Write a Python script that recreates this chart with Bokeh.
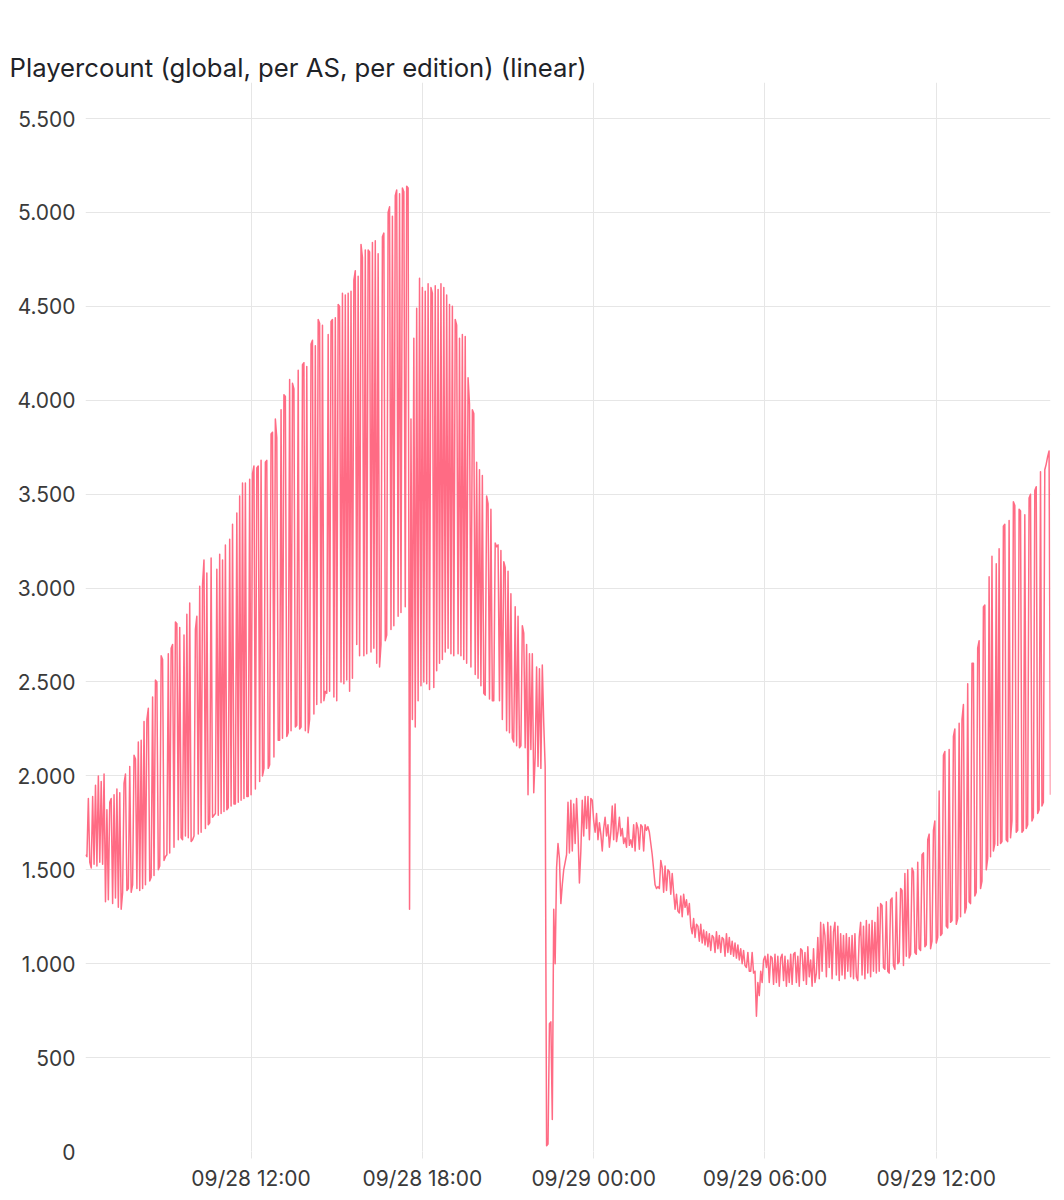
import numpy as np
from bokeh.plotting import figure
from bokeh.models import (FixedTicker, DatetimeTickFormatter, Range1d,
                          ColumnDataSource, LinearAxis)
from bokeh.embed import file_html
from bokeh.resources import INLINE

TITLE = "Playercount (global, per AS, per edition) (linear)"
START = "2024-09-28T06:12"   # first sample
STEP_MIN = 3                 # sampling interval in minutes

# ---- player counts, one list per hour (3-minute samples) ----
d28_06 = [1580, 1570, 1880, 1540, 1510, 1890, 1530, 1950, 1520, 2000, 1540, 1970, 1530, 2010, 1330, 1820]
d28_07 = [1340, 1860, 1880, 1320, 1900, 1350, 1930, 1300, 1910, 1290, 1380, 1960, 2010, 1390, 1400, 2050, 1380, 1420, 2110, 2090]
d28_08 = [1400, 2180, 1390, 2190, 1400, 2290, 1420, 2300, 2360, 1440, 1460, 2420, 1470, 2510, 2500, 1500, 1520, 2640, 2620, 1550]
d28_09 = [1570, 1580, 2650, 1590, 2680, 2700, 1620, 2820, 2810, 1660, 2790, 1670, 1660, 2750, 1680, 2860, 1670, 2920, 1650, 1660]
d28_10 = [1680, 2780, 2850, 1690, 3010, 1700, 3020, 3150, 1720, 3080, 1740, 1750, 3160, 1780, 1790, 1800, 3100, 1790, 3180, 1800]
d28_11 = [3150, 1810, 3230, 1820, 1830, 3260, 1840, 3340, 1850, 1850, 3400, 1860, 3490, 1870, 3560, 1880, 3560, 1890, 1890, 3580]
d28_12 = [1900, 3610, 3650, 1930, 3640, 3650, 1970, 3680, 2000, 2040, 3670, 3680, 2040, 2060, 3820, 3830, 2100, 3900, 3800, 2190]
d28_13 = [2190, 3950, 2200, 4030, 4020, 2210, 2230, 4110, 2240, 4090, 4060, 2260, 2270, 4160, 2250, 2260, 4190, 4200, 2240, 4180]
d28_14 = [2230, 2300, 4300, 4320, 2330, 4290, 2380, 4430, 4410, 2390, 4400, 2400, 2450, 2440, 4350, 2450, 4420, 4430, 2420, 4440]
d28_15 = [2400, 4510, 4500, 2500, 4570, 2490, 4560, 2510, 4570, 2450, 4580, 2520, 4640, 4690, 2700, 4660, 2640, 4830, 4760, 2640]
d28_16 = [4800, 2650, 4800, 4790, 2660, 4840, 2680, 4850, 2600, 4780, 2580, 2700, 4870, 4890, 2720, 2750, 5000, 5030, 2780, 4980]
d28_17 = [2800, 5090, 5120, 2850, 5100, 2870, 5130, 5110, 2900, 5140, 5130, 1290, 3900, 2300, 4330, 2260, 4490, 2400, 4650, 2480]
d28_18 = [4600, 2500, 4580, 2490, 4620, 2460, 4600, 4570, 2470, 4610, 2560, 4590, 2600, 4620, 2620, 4600, 2660, 4560, 2680, 4510]
d28_19 = [2650, 4500, 2640, 4430, 4400, 2650, 4330, 2640, 4350, 2620, 4340, 2600, 4120, 3980, 2580, 3950, 3930, 2540, 3670, 2520]
d28_20 = [3630, 2480, 3600, 2440, 2430, 3490, 3450, 2410, 3420, 2400, 2400, 3240, 3220, 3230, 2400, 3200, 2300, 3140, 3110, 2240]
d28_21 = [3090, 2230, 2970, 2200, 2180, 2900, 2160, 2850, 2150, 2160, 2800, 2760, 2150, 2700, 1900, 2650, 2140, 2650, 1910, 2100]
d28_22 = [2580, 2050, 2570, 2040, 2590, 2280, 2050, 30, 40, 680, 690, 170, 1290, 1000, 1510, 1640, 1560, 1320, 1420, 1500]
d28_23 = [1540, 1580, 1860, 1590, 1870, 1600, 1850, 1640, 1880, 1700, 1430, 1600, 1870, 1680, 1890, 1720, 1890, 1660, 1880, 1870]
d29_00 = [1760, 1700, 1800, 1660, 1750, 1690, 1600, 1720, 1780, 1680, 1740, 1620, 1700, 1840, 1660, 1850, 1650, 1700, 1780, 1680]
d29_01 = [1720, 1640, 1670, 1620, 1780, 1630, 1660, 1620, 1740, 1600, 1750, 1720, 1610, 1740, 1730, 1600, 1740, 1710, 1730, 1700]
d29_02 = [1640, 1580, 1500, 1420, 1400, 1410, 1400, 1550, 1510, 1380, 1520, 1390, 1500, 1490, 1370, 1480, 1380, 1290, 1370, 1280]
d29_03 = [1270, 1360, 1250, 1370, 1300, 1340, 1260, 1320, 1200, 1160, 1240, 1140, 1210, 1200, 1120, 1210, 1110, 1180, 1100, 1170]
d29_04 = [1090, 1160, 1070, 1150, 1140, 1060, 1170, 1080, 1150, 1060, 1140, 1130, 1040, 1160, 1060, 1140, 1050, 1120, 1040, 1110]
d29_05 = [1030, 1100, 1020, 1080, 1000, 1070, 990, 980, 1060, 960, 960, 1060, 950, 960, 720, 900, 830, 960, 900, 1020]
d29_06 = [1040, 980, 1050, 900, 1040, 1030, 890, 1050, 900, 1040, 880, 1030, 1050, 910, 1040, 880, 1020, 900, 1050, 890]
d29_07 = [1050, 1060, 900, 1040, 880, 1080, 1070, 910, 1060, 890, 1090, 930, 1020, 880, 1080, 900, 950, 1140, 920, 1220]
d29_08 = [960, 1210, 1150, 930, 1220, 980, 1200, 920, 1170, 1220, 940, 1200, 910, 1160, 940, 1150, 920, 1160, 960, 1140]
d29_09 = [930, 1150, 920, 1160, 930, 910, 1140, 1220, 940, 1200, 920, 1230, 950, 1210, 930, 1230, 960, 1220, 950, 1300]
d29_10 = [960, 1320, 1310, 980, 970, 1330, 960, 950, 1340, 1350, 990, 970, 1380, 1000, 1010, 1400, 1390, 990, 1480, 1040]
d29_11 = [1500, 1030, 1050, 1510, 1490, 1060, 1050, 1540, 1080, 1070, 1580, 1590, 1090, 1100, 1660, 1690, 1080, 1120, 1710, 1760]
d29_12 = [1110, 1140, 1920, 1150, 1160, 2110, 2130, 1200, 1190, 2140, 1220, 1230, 2210, 2250, 1210, 1240, 2280, 1250, 2300, 2380]
d29_13 = [1270, 1300, 2490, 1330, 1320, 2600, 2600, 1360, 1380, 2680, 2720, 1400, 1440, 2900, 2910, 1500, 1560, 3060, 1570, 3170]
d29_14 = [1600, 1640, 3130, 1630, 3210, 1640, 1650, 3330, 3340, 1660, 1650, 3360, 1670, 1760, 3460, 3440, 1700, 1710, 3420, 3410]
d29_15 = [1700, 1710, 3390, 1720, 1740, 3480, 3500, 1760, 1780, 3520, 3540, 1800, 1820, 3620, 1840, 1860, 3630, 3660, 3700, 3730, 1900]

players = (d28_06 + d28_07 + d28_08 + d28_09 + d28_10 + d28_11 + d28_12 + d28_13 + d28_14
           + d28_15 + d28_16 + d28_17 + d28_18 + d28_19 + d28_20 + d28_21 + d28_22 + d28_23
           + d29_00 + d29_01 + d29_02 + d29_03 + d29_04 + d29_05 + d29_06 + d29_07 + d29_08
           + d29_09 + d29_10 + d29_11 + d29_12 + d29_13 + d29_14 + d29_15)

# ---- axis ticks ----
y_ticks = [0, 500, 1000, 1500, 2000, 2500, 3000, 3500, 4000, 4500, 5000, 5500]
y_tick_labels = ["0", "500", "1.000", "1.500", "2.000", "2.500", "3.000",
                 "3.500", "4.000", "4.500", "5.000", "5.500"]
x_tick_times = ["2024-09-28T12:00", "2024-09-28T18:00", "2024-09-29T00:00",
                "2024-09-29T06:00", "2024-09-29T12:00"]
Y_MAX = 5692

EPOCH = np.datetime64("1970-01-01T00:00")
MS = np.timedelta64(1, "ms")
t = np.datetime64(START) + np.arange(len(players)) * np.timedelta64(STEP_MIN, "m")
t_ms = (t - EPOCH) / MS
x_ticks_ms = [float((np.datetime64(s) - EPOCH) / MS) for s in x_tick_times]

src = ColumnDataSource(dict(t=t_ms, players=players))

p = figure(width=1058, height=1196, x_axis_type="datetime",
           output_backend="svg", toolbar_location=None,
           x_range=Range1d(float(t_ms[0]), float(t_ms[-1])),
           y_range=Range1d(0, Y_MAX),
           min_border_left=85, min_border_right=8,
           min_border_top=82, min_border_bottom=45)

xa = p.below[0]
ya = p.left[0]

# empty axis above the frame (no ticks, white tick style): keeps a gap
# between the title and the plot frame
gap_axis = LinearAxis(ticker=FixedTicker(ticks=[]), axis_line_color=None,
                      major_tick_line_color="white", minor_tick_line_color=None,
                      major_tick_out=41, major_tick_in=0,
                      minor_tick_out=0, minor_tick_in=0,
                      major_label_standoff=0)
p.add_layout(gap_axis, "above")

p.title.text = TITLE
p.title.text_font = "Inter"
p.title.text_font_size = "25.7px"
p.title.text_font_style = "normal"
p.title.text_color = "#1f2328"
p.title.align = "left"
p.title.offset = -76
p.title.standoff = 0

p.outline_line_color = None
p.background_fill_color = "white"
p.border_fill_color = "white"

grid_col = "#e6e6e6"
p.xgrid.grid_line_color = grid_col
p.ygrid.grid_line_color = grid_col

xa.ticker = FixedTicker(ticks=x_ticks_ms)
xa.formatter = DatetimeTickFormatter(
    minutes="%m/%d %H:%M", hourmin="%m/%d %H:%M", hours="%m/%d %H:%M",
    days="%m/%d %H:%M", months="%m/%d %H:%M", years="%m/%d %H:%M")
xa.axis_line_color = None
xa.major_tick_line_color = grid_col
xa.major_tick_out = 7
xa.major_tick_in = 0
xa.minor_tick_line_color = None
xa.major_label_standoff = 7

ya.ticker = FixedTicker(ticks=y_ticks)
ya.major_label_overrides = {v: s for v, s in zip(y_ticks, y_tick_labels)}
ya.axis_line_color = None
ya.major_tick_line_color = None
ya.major_tick_out = 0
ya.major_tick_in = 0
ya.minor_tick_line_color = None
ya.major_label_standoff = 10

for ax in (xa, ya):
    ax.major_label_text_font = "Inter"
    ax.major_label_text_font_size = "21px"
    ax.major_label_text_color = "#3a3a3a"

p.line("t", "players", source=src, line_color="#ff6b84", line_width=1.5,
       line_join="round")

open("out.html", "w").write(file_html(p, INLINE))
